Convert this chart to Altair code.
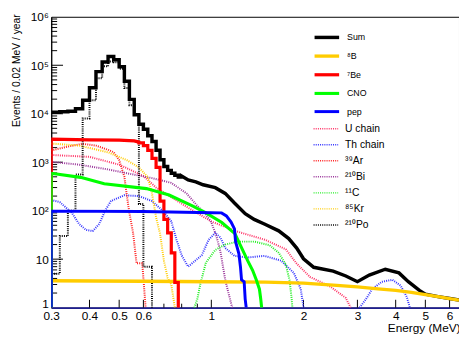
import altair as alt
import pandas as pd

# ---------------- data ----------------
BIN_START = 0.30   # MeV
BIN_WIDTH = 0.02   # MeV

# Sum: binned part (0.30 .. 0.80 MeV) then smooth tail
sum_bins = [1.07e4, 1.10e4, 1.13e4, 1.27e4, 1.89e4, 3.43e4, 7.4e4, 1.17e5, 1.52e5,
            1.30e5, 9.3e4, 4.7e4, 1.98e4, 9.5e3, 6.05e3, 4.8e3, 3.5e3, 2.67e3,
            1.77e3, 1.12e3, 815, 679, 592, 540, 493]
sum_tail_E = [0.80, 0.84, 0.89, 0.94, 1.03, 1.11, 1.19, 1.29, 1.38, 1.49, 1.66, 1.79,
              1.90, 2.00, 2.16, 2.50, 2.75, 3.00, 3.28, 3.70, 4.10, 4.40, 4.78, 5.00,
              5.50, 6.00, 6.44]
sum_tail_V = [520, 430, 394, 342, 298, 227, 144, 87, 66, 53, 38.4, 26.6,
              16.9, 10.2, 6.8, 5.65, 4.5, 3.43, 4.7, 6.2, 5.2, 3.43, 2.27, 1.9,
              1.69, 1.54, 1.43]

b8_E = [0.30, 0.60, 1.0, 1.5, 2.0, 2.5, 3.0, 3.5, 4.0, 4.5, 5.0, 5.5, 6.0, 6.44]
b8_V = [3.58, 3.5, 3.42, 3.35, 3.2, 2.92, 2.67, 2.43, 2.27, 2.07, 1.85, 1.69, 1.54, 1.43]

be7_E = [0.30, 0.30, 0.40, 0.50, 0.56, 0.58]
be7_V = [1, 3.0e3, 2.9e3, 2.85e3, 2.75e3, 2.6e3]
be7_bins_start = 0.58
be7_bins = [2.5e3, 2.2e3, 1.75e3, 1.2e3, 780, 158, 66, 35, 13.5, 3.3]

cno_E = [0.30, 0.30, 0.374, 0.447, 0.614, 0.728, 0.867, 0.957, 1.082, 1.194, 1.257,
         1.314, 1.364, 1.402, 1.436, 1.45, 1.46]
cno_V = [1, 592, 487, 358, 285, 210, 126, 91, 57, 33.5, 16.9, 9.3, 5.9, 3.75, 2.4, 1.5, 1]

pep_E = [0.30, 0.30, 0.60, 1.0, 1.08, 1.12, 1.16, 1.19, 1.20, 1.23, 1.245, 1.255, 1.28, 1.29, 1.30]
pep_V = [1, 98, 96, 91, 90, 78, 58, 42, 23, 13, 6.9, 3.75, 3.4, 1.5, 1]

u_E = [0.30, 0.40, 0.50, 0.60, 0.66, 0.75, 0.85, 1.0, 1.2, 1.5, 1.75, 1.9, 2.1, 2.45, 2.75, 2.85]
u_V = [1.41e3, 1.29e3, 890, 520, 300, 180, 110, 60, 38, 25, 16, 8.1, 4.3, 2.7, 1.58, 1]

th_E = [0.30, 0.32, 0.35, 0.37, 0.39, 0.41, 0.43, 0.45, 0.47, 0.52, 0.58, 0.64, 0.70,
        0.74, 0.77, 0.80, 0.84, 0.93, 0.98, 1.03, 1.07, 1.11, 1.19, 1.31, 1.49, 1.69,
        1.86, 1.96, 2.0]
th_V = [166, 150, 91, 53, 40, 38, 53, 100, 158, 208, 200, 158, 95,
        60, 25, 12, 7, 12, 25, 35, 28, 17, 11.7, 10.8, 11.7, 9.3,
        5.2, 2.4, 1]
th2_E = [3.05, 3.2, 3.35, 3.6, 3.9, 4.15, 4.35, 4.45]
th2_V = [1, 1.5, 2.4, 3.4, 3.75, 2.85, 1.65, 1]

ar_E = [0.30, 0.34, 0.38, 0.42, 0.46, 0.48, 0.50, 0.52, 0.53, 0.54, 0.555, 0.57, 0.595, 0.61]
ar_V = [1.75e3, 2.1e3, 2.4e3, 2.2e3, 1.8e3, 1.6e3, 1.1e3, 500, 200, 90, 35, 8.2, 8.2, 1]

bi_E = [0.30, 0.37, 0.46, 0.55, 0.64, 0.74, 0.83, 0.90, 0.96, 1.0, 1.04, 1.07, 1.09, 1.11, 1.14, 1.17]
bi_V = [1.02e3, 890, 710, 565, 470, 375, 227, 126, 83, 58, 29, 14.7, 7.4, 3.75, 1.9, 1]

c11_E = [0.88, 0.90, 0.92, 0.96, 1.03, 1.11, 1.22, 1.38, 1.55, 1.66, 1.75, 1.80, 1.83, 1.84]
c11_V = [1, 1.5, 3, 8.5, 15.5, 20, 23, 23, 19.4, 13.5, 7.8, 3.75, 1.5, 1]

kr_E = [0.30, 0.37, 0.46, 0.53, 0.58, 0.62, 0.64, 0.66, 0.68, 0.70, 0.72, 0.74, 0.76]
kr_V = [2.43e3, 2.2e3, 1.6e3, 1.1e3, 780, 493, 227, 73, 33.5, 9.3, 4.1, 3.0, 1]

po_bins = [5, 30, 100, 560, 8e3, 1.9e4, 5.4e4, 9.5e4, 1.2e5, 1.15e5, 8.5e4, 3.4e4,
           1.5e4, 9.5e3, 137, 7, 7]

solid_names = ["Sum", "⁸B", "⁷Be", "CNO", "pep"]
solid_colors = ["#000000", "#ffcc00", "#ff0000", "#00ff00", "#0000ff"]
solid_widths = [3.5, 3, 2.5, 2.5, 2.5]

dot_names = ["U chain", "Th chain", "³⁹Ar", "²¹⁰Bi", "¹¹C", "⁸⁵Kr", "²¹⁰Po"]
dot_colors = ["#ff3366", "#3333ff", "#ff2020", "#993399", "#22ee22", "#ffcc00", "#000000"]

y_ticks = [1, 10, 100, 1e3, 1e4, 1e5, 1e6]
x_ticks = [0.3, 0.4, 0.5, 0.6, 1, 2, 3, 4, 5, 6]
x_minor = [0.7, 0.8, 0.9]
y_minor = [m * 10 ** k for k in range(0, 6) for m in range(2, 10)]
y_major_inner = [10, 100, 1e3, 1e4, 1e5]


# ---------------- build tables ----------------
def step_points(start, width, vals):
    E, V = [], []
    for i, v in enumerate(vals):
        E += [round(start + i * width, 4), round(start + (i + 1) * width, 4)]
        V += [v, v]
    return E, V


rows = []


def add(series, seg, E, V):
    for e, v in zip(E, V):
        rows.append({"series": series, "seg": seg, "E": e, "V": v, "idx": len(rows)})


sE, sV = step_points(BIN_START, BIN_WIDTH, sum_bins)
add("Sum", "a", sE + sum_tail_E, sV + sum_tail_V)
add("⁸B", "a", b8_E, b8_V)
bE, bV = step_points(be7_bins_start, BIN_WIDTH, be7_bins)
add("⁷Be", "a", be7_E + bE + [bE[-1]], be7_V + bV + [1])
add("CNO", "a", cno_E, cno_V)
add("pep", "a", pep_E, pep_V)
solid_df = pd.DataFrame(rows)

rows = []
add("U chain", "a", u_E, u_V)
add("Th chain", "a", th_E, th_V)
add("Th chain", "b", th2_E, th2_V)
add("³⁹Ar", "a", ar_E, ar_V)
add("²¹⁰Bi", "a", bi_E, bi_V)
add("¹¹C", "a", c11_E, c11_V)
add("⁸⁵Kr", "a", kr_E, kr_V)
pE, pV = step_points(BIN_START, BIN_WIDTH, po_bins)
add("²¹⁰Po", "a", [BIN_START] + pE + [pE[-1]], [1] + pV + [1])
dot_df = pd.DataFrame(rows)

# ---------------- chart ----------------
W, H = 415, 296
FONT = "Liberation Sans"

xscale = alt.Scale(type="log", domain=[0.3, 6.44], nice=False)
yscale = alt.Scale(type="log", domain=[1, 1e6], nice=False)

xaxis = alt.Axis(values=x_ticks, format="~g", ticks=False, labelPadding=3,
                 labelFlush=False, labelOverlap=False, labelFontSize=12, labelFont=FONT,
                 labelColor="black", grid=False, domainColor="#1f1f8f", domainWidth=2,
                 title="Energy (MeV)", titleAnchor="end", titleAlign="right",
                 titleX=W + 1, titleFont=FONT, titleFontSize=12, titleFontWeight="normal",
                 titlePadding=1, titleColor="black")
yaxis = alt.Axis(values=y_ticks,
                 labelExpr="['1','10','10²','10³','10⁴','10⁵','10⁶'][round(log(datum.value)/LN10)]",
                 labelBaseline=alt.condition("datum.value == 1", alt.value("alphabetic"),
                                             alt.value("middle")),
                 ticks=False, labelPadding=3, labelOverlap=False, labelFontSize=12,
                 labelFont=FONT, labelColor="black", grid=False, domainColor="black",
                 title="Events / 0.02 MeV / year", titleFont=FONT, titleFontSize=10.5,
                 titleFontWeight="normal", titleAngle=270, titleAlign="right",
                 titleBaseline="middle", titleX=-35, titleY=-3, titleColor="black")

X = alt.X("E:Q", scale=xscale, axis=xaxis)
Y = alt.Y("V:Q", scale=yscale, axis=yaxis)

ymin_df = pd.DataFrame({"V": y_minor})
ymaj_df = pd.DataFrame({"V": y_major_inner})
xmaj_df = pd.DataFrame({"E": x_ticks[1:]})
xmin_df = pd.DataFrame({"E": x_minor})

ymin_rules = alt.Chart(ymin_df).mark_rule(color="black", strokeWidth=1).encode(
    y=Y, x=alt.value(0), x2=alt.value(6))
ymaj_rules = alt.Chart(ymaj_df).mark_rule(color="black", strokeWidth=1).encode(
    y=Y, x=alt.value(0), x2=alt.value(12))
xmaj_rules = alt.Chart(xmaj_df).mark_rule(color="black", strokeWidth=1).encode(
    x=X, y=alt.value(H), y2=alt.value(H - 8))
xmin_rules = alt.Chart(xmin_df).mark_rule(color="black", strokeWidth=1).encode(
    x=X, y=alt.value(H), y2=alt.value(H - 4))

dotted = alt.Chart(dot_df).mark_line(clip=True, strokeWidth=2, strokeDash=[1, 1.2],
                                     interpolate="linear").encode(
    x=X, y=Y,
    color=alt.Color("series:N", scale=alt.Scale(domain=dot_names, range=dot_colors),
                    legend=alt.Legend(title=None, orient="none", legendX=273.5, legendY=108,
                                      symbolType="M-2.5,0H2.5", symbolSize=100,
                                      symbolStrokeWidth=1.5, symbolDash=[1, 1.2],
                                      labelFont=FONT, labelFontSize=10.5, labelColor="black",
                                      labelOffset=13.5, rowPadding=4.3)),
    detail="seg:N",
    order=alt.Order("idx:Q"),
)

solid = alt.Chart(solid_df).mark_line(clip=True, interpolate="linear").encode(
    x=X, y=Y,
    color=alt.Color("series:N", scale=alt.Scale(domain=solid_names, range=solid_colors),
                    legend=alt.Legend(title=None, orient="none", legendX=273.5, legendY=14,
                                      symbolType="M-2.5,0H2.5", symbolSize=100,
                                      symbolStrokeWidth=2, labelFont=FONT, labelFontSize=9,
                                      labelColor="black", labelOffset=13.5, rowPadding=5)),
    strokeWidth=alt.StrokeWidth("series:N",
                                scale=alt.Scale(domain=solid_names, range=solid_widths),
                                legend=None),
    detail="seg:N",
    order=alt.Order("idx:Q"),
)

chart = alt.layer(ymin_rules, ymaj_rules, xmaj_rules, xmin_rules, dotted, solid).resolve_scale(
    color="independent", strokeWidth="independent"
).properties(
    width=W, height=H,
    padding={"left": 44, "top": 6, "right": 0, "bottom": 30},
    autosize=alt.AutoSizeParams(type="none"),
    background="white",
).configure_view(stroke="black", strokeWidth=1)

chart.save("out.html", embed_options={"renderer": "svg", "actions": False})
